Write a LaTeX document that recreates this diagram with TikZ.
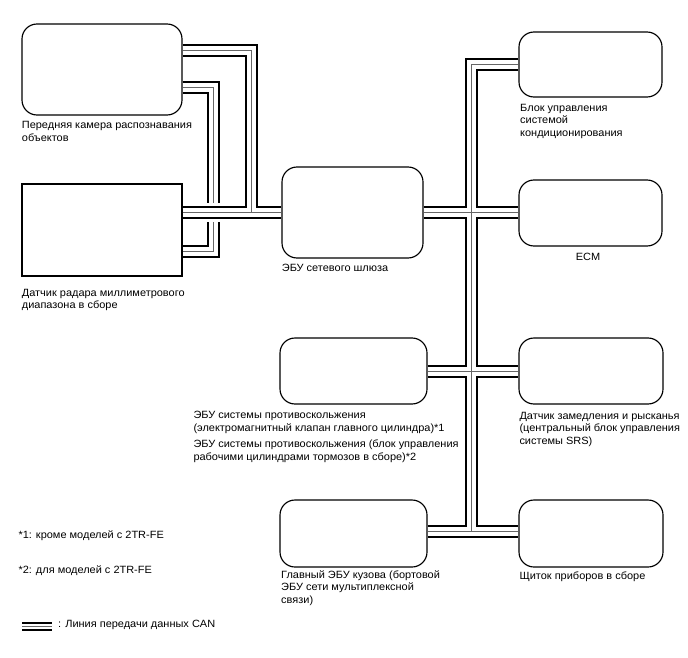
\documentclass[tikz,border=0pt]{standalone}
\usepackage{fontspec}
\setmainfont{Liberation Sans}[FakeStretch=1.045]
\usetikzlibrary{calc}
\begin{document}
\begin{tikzpicture}[x=1pt,y=-1pt,
  box/.style={draw=black,line width=1.15pt,rounded corners=15pt,inner sep=0pt},
  sqbox/.style={draw=black,line width=1.1pt,inner sep=0pt},
  lbl/.style={anchor=north west,inner sep=0pt,align=left,font=\fontsize{10.5}{12.6}\selectfont,execute at begin node={\strut}},
  busblack/.style={line width=13pt,draw=black},
  buswhite/.style={line width=9pt,draw=white},
  busgray/.style={line width=1pt,draw=black!60},
  halo/.style={line width=19pt,draw=white}]
\useasboundingbox (0,0) rectangle (688,658);
% boxes
\node[box,minimum width=160pt,minimum height=91pt] (cam) at (102,69.5) {};
\node[sqbox,minimum width=160pt,minimum height=92pt] (radar) at (102,230) {};
\node[box,minimum width=141pt,minimum height=91pt] (gw) at (352.5,212.5) {};
\node[box,minimum width=143pt,minimum height=65pt] (ac) at (590.5,64.5) {};
\node[box,minimum width=143pt,minimum height=66pt] (ecm) at (590.5,213) {};
\node[box,minimum width=147pt,minimum height=66pt] (abs) at (353.5,371) {};
\node[box,minimum width=147pt,minimum height=67pt] (body) at (353.5,533.5) {};
\node[box,minimum width=144pt,minimum height=66pt] (yaw) at (591,371) {};
\node[box,minimum width=144pt,minimum height=67pt] (clu) at (591,533.5) {};
% junction coordinates
\coordinate (c1) at (251,51);
\coordinate (j1) at (251,212.5);
\coordinate (c2a) at (213,87.5);
\coordinate (c2b) at (213,251);
\coordinate (t0) at (471.5,64.5);
\coordinate (t1) at (471.5,531.5);
% camera -> radar bus (passes under the radar-gateway bus)
\foreach \s in {busblack,buswhite,busgray}
  \draw[\s] (cam.east |- c2a) -- (c2a) -- (c2b) -- (radar.east |- c2b);
\draw[halo] (192,212.5) -- (272,212.5);
% other buses
\foreach \s in {busblack,buswhite,busgray}
  \draw[\s] (radar.east |- gw.west) -- (gw.west)
            (cam.east |- c1) -- (c1) -- (j1)
            (ac.west) -- (t0) -- (t1)
            (gw.east) -- (ecm.west |- gw.east)
            (abs.east) -- (yaw.west |- abs.east)
            (body.east |- t1) -- (clu.west |- t1);
% labels
\node[lbl] (lcam) at (21.7,121.2) {Передняя камера распознавания\\объектов};
\node[lbl] (lradar) at (21.7,288.7) {Датчик радара миллиметрового\\диапазона в сборе};
\node[lbl] (lgw) at (281.7,262.7) {ЭБУ сетевого шлюза};
\node[lbl] (lac) at (520,103.9) {Блок управления\\системой\\кондиционирования};
\node[lbl,anchor=north] (lecm) at (588,251.2) {ECM};
\node[lbl] (labs) at (193.3,411.2) {ЭБУ системы противоскольжения\\(электромагнитный клапан главного цилиндра)*1\\[3.5pt]ЭБУ системы противоскольжения (блок управления\\рабочими цилиндрами тормозов в сборе)*2};
\node[lbl] (lbody) at (281,570.2) {Главный ЭБУ кузова (бортовой\\ЭБУ сети мультиплексной\\связи)};
\node[lbl] (lyaw) at (519.3,411.9) {Датчик замедления и рысканья\\(центральный блок управления\\системы SRS)};
\node[lbl] (lclu) at (519.3,570.2) {Щиток приборов в сборе};
\node[lbl] (fn1) at (18.3,529.5) {*1: кроме моделей с 2TR-FE};
\node[lbl] (fn2) at (18.3,564.5) {*2: для моделей с 2TR-FE};
% legend
\coordinate (lg0) at (22,626.5);
\coordinate (lg1) at (52,626.5);
\draw[line width=9pt,black] (lg0) -- (lg1);
\draw[line width=5pt,white] (lg0) -- (lg1);
\draw[line width=1.2pt,black!60] (lg0) -- (lg1);
\node[lbl] (llg) at (58,618.2) {: Линия передачи данных CAN};
\end{tikzpicture}
\end{document}
